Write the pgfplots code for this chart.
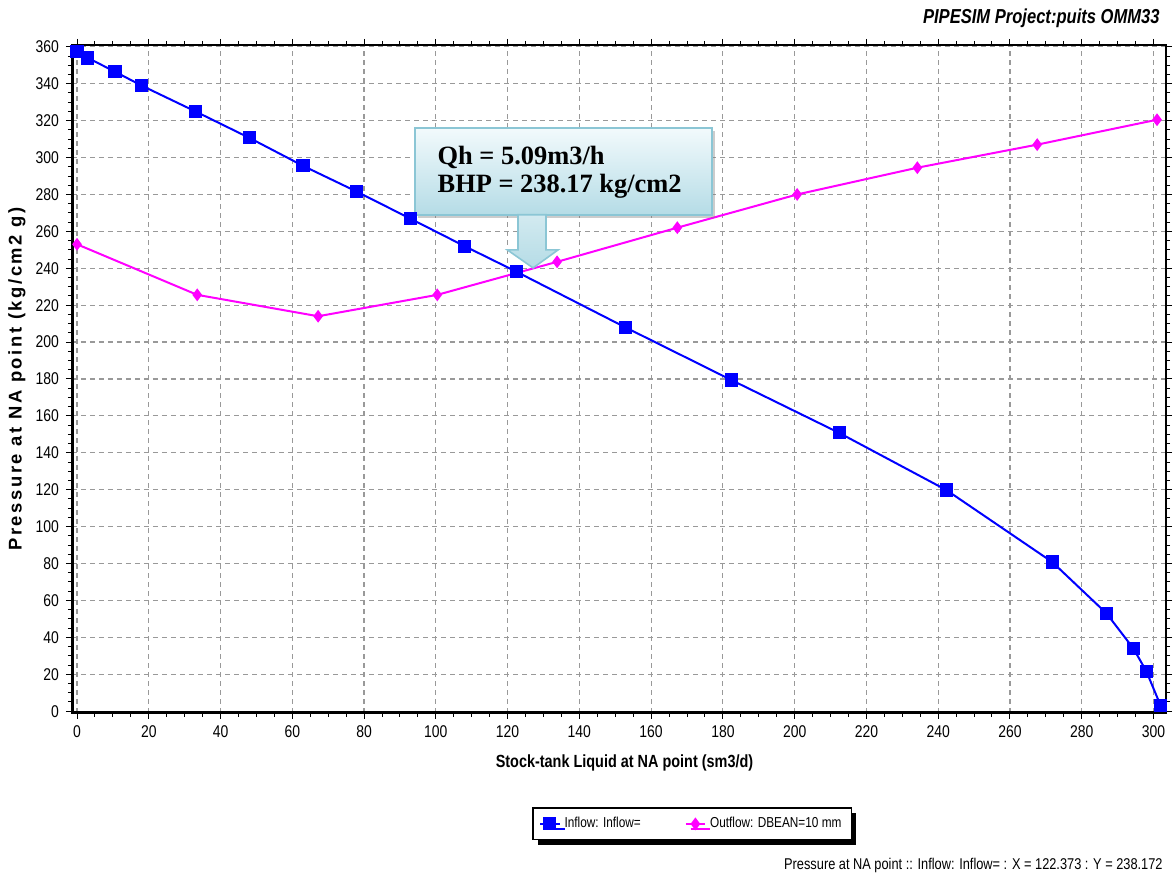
\documentclass[border=0pt]{standalone}
\usepackage{fontspec}
\setmainfont{Liberation Sans}
\newfontfamily\narrow{Liberation Sans}[FakeStretch=0.82]
\newfontfamily\widefont{Liberation Sans}[LetterSpace=14]
\newfontfamily\tnr{Liberation Serif}
\usepackage{pgfplots}
\pgfplotsset{compat=1.18}
\usetikzlibrary{shadows}
\definecolor{boxborder}{HTML}{8BC6D5}
\definecolor{boxtop}{HTML}{F2FAFC}
\definecolor{boxbot}{HTML}{B5DCE6}
\definecolor{mag}{RGB}{255,0,255}
\definecolor{blu}{RGB}{0,0,255}
\begin{document}
\begin{tikzpicture}
\path[use as bounding box] (-36pt,-82pt) rectangle (550.5pt,356.5pt);
\begin{axis}[
  at={(0,0)}, anchor=south west,
  scale only axis, width=547pt, height=334pt,
  xmin=-1.4, xmax=303.5, ymin=-1, ymax=361,
  xtick={0,20,...,300}, ytick={0,20,...,360},
  minor x tick num=3, minor y tick num=3,
  tick align=outside,
  major tick length=3pt, minor tick length=2pt,
  tick style={black, line width=0.5pt},
  grid=major,
  major grid style={dash pattern=on 2.5pt off 2pt, gray!80, line width=0.6pt},
  axis line style={line width=0.9pt},
  /pgf/number format/assume math mode=true,
  ticklabel style={font=\narrow\fontsize{8.5}{10}\selectfont},
  xlabel={\bfseries Stock-tank Liquid at NA point (sm3/d)},
  ylabel={\bfseries Pressure at NA point (kg/cm2 g)},
  xlabel style={at={(axis description cs:0.505,-0.0749)}, anchor=center, font=\narrow\fontsize{8.8}{11}\selectfont},
  ylabel style={at={(axis description cs:-0.0503,0.5)}, anchor=center, font=\widefont\fontsize{9.2}{10}\selectfont},
  legend columns=2,
  legend image code/.code={\draw[mark repeat=2,mark phase=2,#1] plot coordinates {(0cm,0cm) (0.17cm,0cm) (0.34cm,0cm)};},
  legend style={at={(rel axis cs:0.567,-0.166)}, anchor=center, draw=black, line width=0.8pt,
    drop shadow={shadow xshift=2.5pt, shadow yshift=-2.5pt, fill=black, opacity=1},
    font=\narrow\fontsize{7.2}{9}\selectfont, inner xsep=3pt, inner ysep=2.5pt,
    /tikz/every even column/.append style={column sep=20pt}},
]
\addplot[blu, line width=1pt, mark=square*, mark size=2.8pt, mark options={solid, fill=blu}] coordinates {
(0,357.4) (3,354) (10.6,346.5) (18,339) (33,325) (48,310.7) (63,295.5) (78,281.5) (93,266.8) (108,252) (122.4,238.2) (152.8,208) (182.3,179.5) (212.4,150.8) (242.3,119.8) (271.8,80.8) (286.9,53) (294.4,34) (298,21.7) (302,3)
};
\addlegendentry{Inflow: Inflow=}
\addplot[mag, line width=1pt, mark=diamond*, mark size=2.4pt, mark options={solid, fill=mag}] coordinates {
(0,253) (33.5,225.6) (67.2,214) (100.4,225.6) (133.8,243.5) (167.3,262) (200.7,280) (234.2,294.5) (267.6,307) (301,320.5)
};
\addlegendentry{Outflow: DBEAN=10 mm}
\draw[line width=1.6pt] (rel axis cs:0,1) -- (rel axis cs:0,0) -- (rel axis cs:1,0);
% annotation
\shade[top color=boxtop, bottom color=boxbot, draw=boxborder, line width=1pt, drop shadow={shadow xshift=1.5pt, shadow yshift=-1.5pt, fill=gray, opacity=0.4}]
  (axis cs:94.2,316) rectangle (axis cs:177,269);
\shade[top color=boxbot!60, bottom color=boxbot, draw=boxborder, line width=0.8pt]
  (axis cs:122.9,269) -- (axis cs:130.7,269) -- (axis cs:130.7,250) -- (axis cs:134.1,250) -- (axis cs:127.1,240.2) -- (axis cs:119.9,250) -- (axis cs:122.9,250) -- cycle;
\node[anchor=west, font=\tnr\bfseries\fontsize{13.2}{15}\selectfont, inner sep=0pt] at (axis cs:100.4,299.9) {Qh = 5.09m3/h};
\node[anchor=west, font=\tnr\bfseries\fontsize{13.2}{15}\selectfont, inner sep=0pt] at (axis cs:100.4,284.2) {BHP = 238.17 kg/cm2};
\end{axis}
\node[anchor=east, font=\narrow\bfseries\itshape\fontsize{10.1}{12}\selectfont, inner sep=0pt] at (544pt,347.5pt) {PIPESIM Project:puits OMM33};
\node[anchor=east, font=\narrow\fontsize{7.8}{10}\selectfont, inner sep=0pt] at (545.5pt,-76pt) {Pressure at NA point :: Inflow: Inflow= : X = 122.373 : Y = 238.172};
\end{tikzpicture}
\end{document}
